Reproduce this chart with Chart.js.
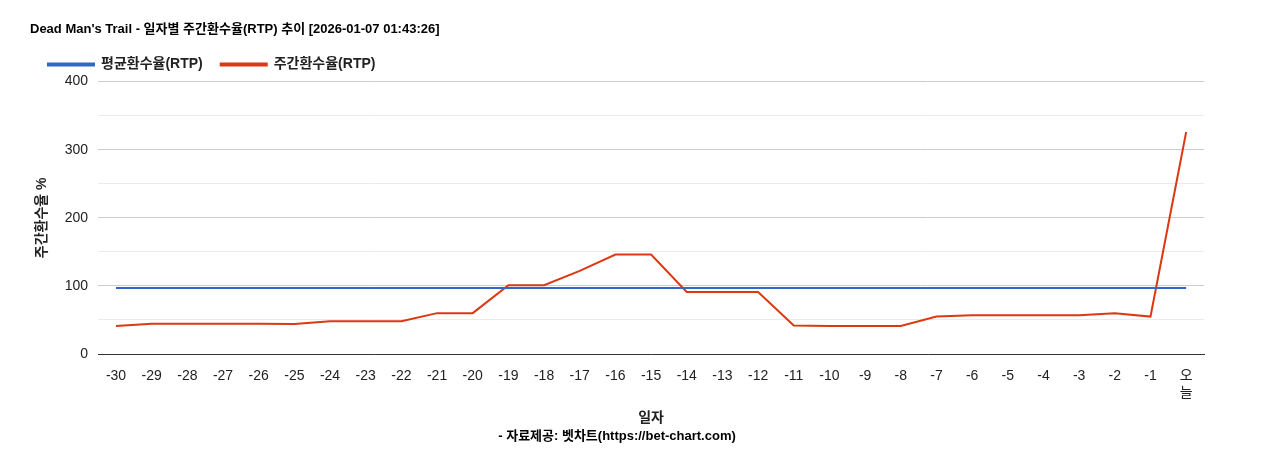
<!DOCTYPE html>
<html>
<head>
<meta charset="utf-8">
<script src="https://cdn.jsdelivr.net/npm/chart.js@4"></script>
<style>
  html, body { margin: 0; padding: 0; background: #fff; }
  #wrap { width: 1268px; height: 450px; }
</style>
</head>
<body>
<div id="wrap"><canvas id="c" width="1268" height="450"></canvas></div>
<script>
const labels = ["-30","-29","-28","-27","-26","-25","-24","-23","-22","-21","-20","-19","-18","-17","-16","-15","-14","-13","-12","-11","-10","-9","-8","-7","-6","-5","-4","-3","-2","-1",["오","늘"]];
const avgRtp = Array(31).fill(97);
const weeklyRtp = [41,44.5,44.5,44.5,44.5,44,48,48,48,60,60,101,101,122,146,146,91,91,91,42,41,41,41,55,57,57,57,57,60,55,326];

Chart.defaults.font.family = "Arial, 'Liberation Sans', 'Noto Sans CJK KR', sans-serif";
Chart.defaults.color = "#222";

new Chart(document.getElementById("c"), {
  type: "line",
  data: {
    labels,
    datasets: [
      { label: "평균환수율(RTP)", data: avgRtp, borderColor: "#3366cc", backgroundColor: "#3366cc", borderWidth: 2, pointRadius: 0 },
      { label: "주간환수율(RTP)", data: weeklyRtp, borderColor: "#dc3912", backgroundColor: "#dc3912", borderWidth: 2, pointRadius: 0, tension: 0 },
    ],
  },
  options: {
    responsive: false,
    animation: false,
    layout: { padding: { left: 30, right: 64, top: 8, bottom: 2 } },
    plugins: {
      title: {
        display: true, align: "start",
        text: "Dead Man's Trail - 일자별 주간환수율(RTP) 추이 [2026-01-07 01:43:26]",
        font: { size: 13, weight: "bold" }, color: "#000",
        padding: { top: 14, bottom: 2 },
      },
      legend: {
        align: "start",
        labels: { boxWidth: 46, boxHeight: 2, font: { size: 14, weight: "bold" }, color: "#222", padding: 18 },
      },
      subtitle: {
        display: true, position: "bottom",
        text: "- 자료제공: 벳차트(https://bet-chart.com)",
        font: { size: 13, weight: "bold" }, color: "#000", padding: { top: 0, bottom: 4 },
      },
    },
    scales: {
      x: {
        offset: true,
        grid: { display: false },
        border: { color: "#333" },
        ticks: { font: { size: 14 }, maxRotation: 0, minRotation: 0, autoSkip: false, padding: 6 },
        title: { display: true, text: "일자", font: { size: 14, weight: "bold" }, padding: { top: 2, bottom: 2 } },
      },
      y: {
        min: 0, max: 400,
        ticks: { stepSize: 50, font: { size: 14 }, padding: 10, callback: (v) => (v % 100 === 0 ? v : "") },
        grid: { color: (ctx) => (ctx.tick && ctx.tick.value % 100 === 0 ? "#cccccc" : "#ebebeb"), drawTicks: false },
        border: { display: false },
        title: { display: true, text: "주간환수율 %", font: { size: 14, weight: "bold" } },
      },
    },
  },
});
</script>
</body>
</html>
